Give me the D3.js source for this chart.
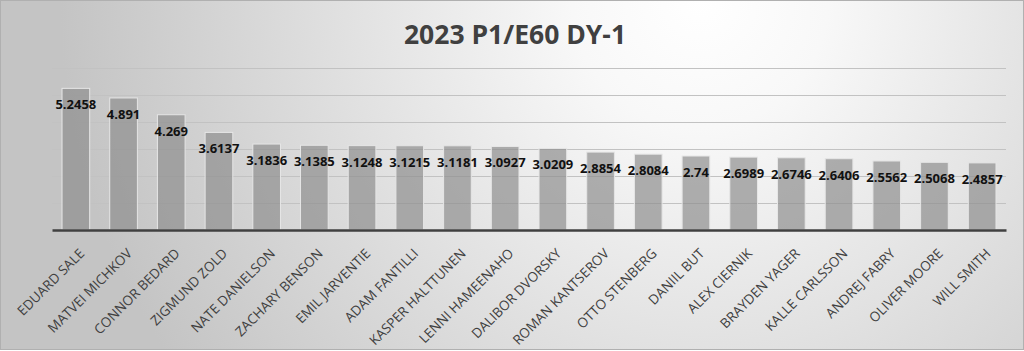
<!DOCTYPE html>
<html><head><meta charset="utf-8">
<script src="https://cdn.jsdelivr.net/npm/d3@7"></script>
<style>html,body{margin:0;padding:0;background:#fff;}svg{display:block;}</style>
</head><body>
<svg id="chart" width="1024" height="351"></svg>
<script>
const title = "2023 P1/E60 DY-1";
const players = ["EDUARD SALE","MATVEI MICHKOV","CONNOR BEDARD","ZIGMUND ZOLD","NATE DANIELSON","ZACHARY BENSON","EMIL JARVENTIE","ADAM FANTILLI","KASPER HALTTUNEN","LENNI HAMEENAHO","DALIBOR DVORSKY","ROMAN KANTSEROV","OTTO STENBERG","DANIIL BUT","ALEX CIERNIK","BRAYDEN YAGER","KALLE CARLSSON","ANDREJ FABRY","OLIVER MOORE","WILL SMITH"];
const scores = [5.2458,4.891,4.269,3.6137,3.1836,3.1385,3.1248,3.1215,3.1181,3.0927,3.0209,2.8854,2.8084,2.74,2.6989,2.6746,2.6406,2.5562,2.5068,2.4857];
const gridTicks = [0,1,2,3,4,5,6];

const W = 1024, H = 351;
const svg = d3.select("#chart");
const defs = svg.append("defs");
const rg = defs.append("radialGradient").attr("id","bg")
  .attr("gradientUnits","userSpaceOnUse")
  .attr("cx",700).attr("cy",0).attr("r",640);
rg.append("stop").attr("offset","0").attr("stop-color","#ffffff");
rg.append("stop").attr("offset","0.2").attr("stop-color","#f8f8f8");
rg.append("stop").attr("offset","1").attr("stop-color","#c4c4c4");

svg.append("rect").attr("x",0.5).attr("y",0.5).attr("width",W-1).attr("height",H-2)
  .attr("fill","url(#bg)").attr("stroke","#b0b0b0").attr("stroke-width",1);

const x = d3.scaleBand().domain(players).range([52,1006]).paddingInner(0.42).paddingOuter(0.21);
const y = d3.scaleLinear().domain([0,6]).range([230,68]);

// gridlines
svg.append("g").selectAll("line").data(gridTicks.filter(d=>d>0)).join("line")
  .attr("x1",52).attr("x2",1006)
  .attr("y1",d=>Math.round(y(d))+0.5).attr("y2",d=>Math.round(y(d))+0.5)
  .attr("stroke","#c2c2c2").attr("stroke-width",1);

// bars
svg.append("g").selectAll("rect").data(scores).join("rect")
  .attr("x",(d,i)=>x(players[i]))
  .attr("width",x.bandwidth())
  .attr("y",d=>y(d))
  .attr("height",d=>y(0)-y(d))
  .attr("fill","#8f8f8f").attr("fill-opacity",0.7)
  .attr("stroke","#e6e6e6").attr("stroke-width",1);

// baseline axis
const xAxis = svg.append("g").attr("transform",`translate(0,${y(0)})`)
  .call(d3.axisBottom(x).tickSize(0).tickSizeOuter(0).tickPadding(0));
xAxis.select(".domain").attr("stroke","#404040").attr("stroke-width",2.5);
xAxis.selectAll(".tick text")
  .attr("transform","translate(6,21) rotate(-45)")
  .attr("text-anchor","end").attr("dy","0.35em")
  .attr("font-family","'Open Sans', sans-serif").attr("font-size",13.5)
  .attr("fill","#404040");

// value labels
svg.append("g").selectAll("text").data(scores).join("text")
  .attr("x",(d,i)=>x(players[i])+x.bandwidth()/2)
  .attr("y",d=>y(d)+21)
  .attr("text-anchor","middle")
  .attr("font-family","'Open Sans', sans-serif").attr("font-weight","bold")
  .attr("font-size",13).attr("fill","#111")
  .text(d=>String(d));

// title
svg.append("text").attr("x",515).attr("y",44).attr("text-anchor","middle")
  .attr("font-family","'Open Sans', sans-serif").attr("font-weight","bold")
  .attr("font-size",26.5).attr("fill","#404040").text(title);
</script>
</body></html>
